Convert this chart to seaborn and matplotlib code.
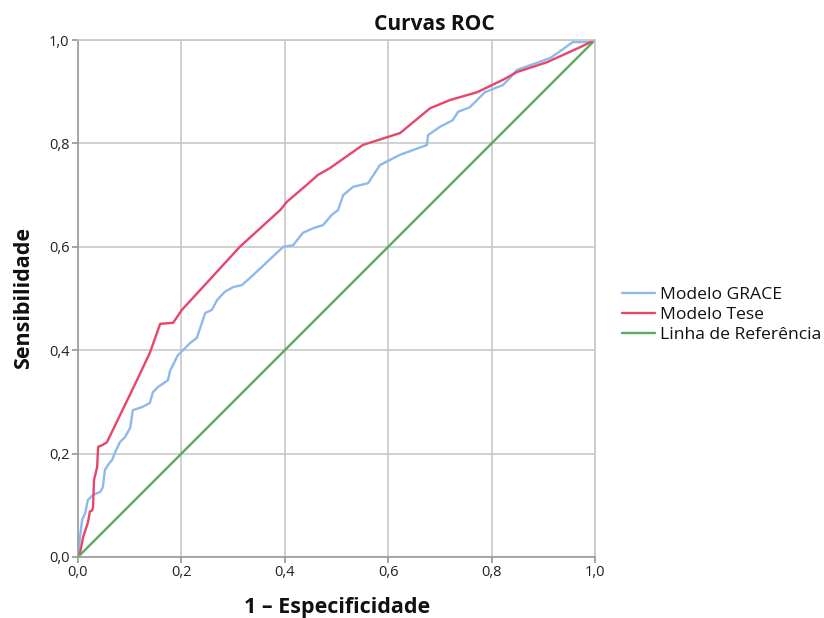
import matplotlib
matplotlib.use("Agg")
import matplotlib.pyplot as plt
import seaborn as sns
import pandas as pd
import numpy as np
from matplotlib.ticker import FuncFormatter

# Data
grace_fpr = [0.0, 0.004, 0.008, 0.014, 0.019, 0.029, 0.043, 0.048, 0.052, 0.058, 0.066, 0.072, 0.081,
             0.091, 0.101, 0.106, 0.124, 0.139, 0.145, 0.155, 0.174, 0.178, 0.193, 0.203, 0.217, 0.230,
             0.246, 0.259, 0.269, 0.284, 0.300, 0.317, 0.333, 0.397, 0.416, 0.435, 0.455, 0.474, 0.491,
             0.503, 0.513, 0.532, 0.561, 0.584, 0.623, 0.675, 0.677, 0.700, 0.725, 0.735, 0.758, 0.787,
             0.822, 0.832, 0.849, 0.913, 0.928, 0.957, 0.990, 1.0]
grace_tpr = [0.0, 0.04, 0.072, 0.085, 0.110, 0.120, 0.126, 0.135, 0.168, 0.178, 0.188, 0.203, 0.222,
             0.232, 0.250, 0.284, 0.290, 0.298, 0.319, 0.329, 0.342, 0.360, 0.390, 0.400, 0.414, 0.424,
             0.472, 0.478, 0.497, 0.513, 0.522, 0.526, 0.540, 0.600, 0.603, 0.627, 0.636, 0.642, 0.662,
             0.671, 0.700, 0.716, 0.723, 0.758, 0.778, 0.797, 0.816, 0.832, 0.845, 0.861, 0.870, 0.899,
             0.913, 0.923, 0.942, 0.965, 0.975, 0.996, 0.996, 1.0]

tese_fpr = [0.0, 0.004, 0.010, 0.019, 0.023, 0.027, 0.029, 0.031, 0.037, 0.039, 0.048, 0.056, 0.114,
            0.139, 0.159, 0.184, 0.201, 0.313, 0.391, 0.404, 0.453, 0.464, 0.487, 0.551, 0.623, 0.681,
            0.720, 0.772, 0.822, 0.849, 0.907, 0.971, 1.0]
tese_tpr = [0.0, 0.008, 0.039, 0.066, 0.088, 0.090, 0.095, 0.149, 0.174, 0.213, 0.217, 0.222, 0.342,
            0.395, 0.451, 0.453, 0.478, 0.600, 0.671, 0.687, 0.729, 0.739, 0.752, 0.797, 0.820, 0.868,
            0.884, 0.899, 0.923, 0.938, 0.957, 0.986, 1.0]

ref_fpr = [0.0, 1.0]
ref_tpr = [0.0, 1.0]

series = ["Modelo GRACE", "Modelo Tese", "Linha de Referência"]
colors = ["#8db9ef", "#e8456b", "#5cab5c"]

df = pd.concat([
    pd.DataFrame({"x": grace_fpr, "y": grace_tpr, "s": series[0]}),
    pd.DataFrame({"x": tese_fpr, "y": tese_tpr, "s": series[1]}),
    pd.DataFrame({"x": ref_fpr, "y": ref_tpr, "s": series[2]}),
], ignore_index=True)

sns.set_theme(style="white")
plt.rcParams["font.family"] = ["Open Sans", "DejaVu Sans"]

fig = plt.figure(figsize=(8.24, 6.18), dpi=100)
ax = fig.add_axes([78 / 824, 1 - 557 / 618, 517 / 824, 517 / 618])

sns.lineplot(data=df, x="x", y="y", hue="s", hue_order=series, palette=colors,
             sort=False, estimator=None, ax=ax, lw=1.7)

ax.set_xlim(0, 1)
ax.set_ylim(0, 1)
ticks = [0, 0.2, 0.4, 0.6, 0.8, 1.0]
ax.set_xticks(ticks)
ax.set_yticks(ticks)
fmt = FuncFormatter(lambda v, p: f"{v:.1f}".replace(".", ","))
ax.xaxis.set_major_formatter(fmt)
ax.yaxis.set_major_formatter(fmt)
ax.tick_params(axis="both", labelsize=10.5, length=4, color="#999999", direction="out",
               bottom=True, left=True, pad=2, labelcolor="#222222")
ax.grid(True, color="#c8c8c8", lw=1.2)
for sp in ax.spines.values():
    sp.set_color("#c8c8c8")
    sp.set_linewidth(1.2)
ax.spines["left"].set_color("#999999")
ax.spines["bottom"].set_color("#999999")

ax.set_xlabel("")
ax.set_ylabel("")
fig.text(337 / 824, 1 - 607 / 618, "1 – Especificidade", ha="center", va="center",
         fontsize=15.5, fontweight="bold", color="#111111")
fig.text(24 / 824, 1 - 298 / 618, "Sensibilidade", ha="center", va="center", rotation=90,
         fontsize=15.5, fontweight="bold", color="#111111")
fig.text(434 / 824, 1 - 24 / 618, "Curvas ROC", ha="center", va="center",
         fontsize=15, fontweight="bold", color="#111111")

handles, labels = ax.get_legend_handles_labels()
ax.legend(handles, labels, loc="center left", bbox_to_anchor=(615 / 824, 1 - 315 / 618),
          bbox_transform=fig.transFigure, frameon=False, fontsize=12.6,
          handlelength=1.9, handletextpad=0.3, labelspacing=0.22, borderaxespad=0,
          labelcolor="#111111")

fig.savefig("out.png", dpi=100)
